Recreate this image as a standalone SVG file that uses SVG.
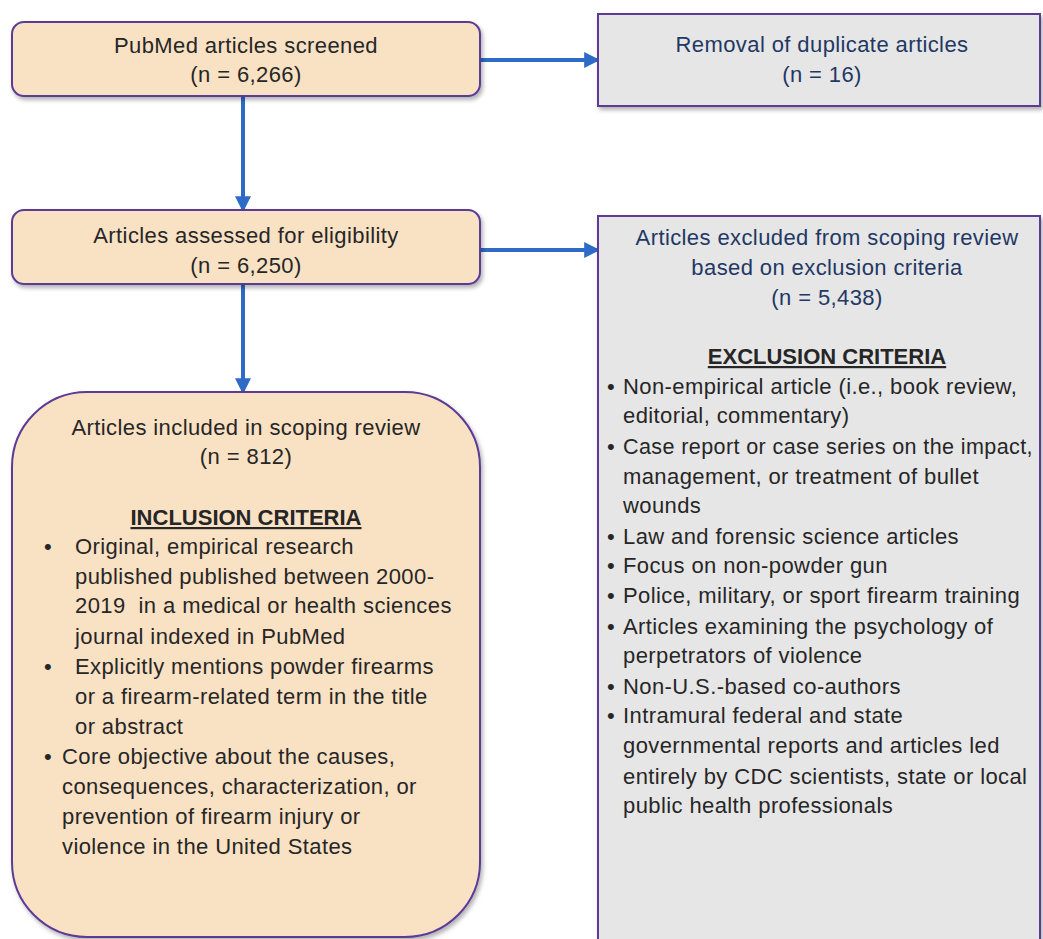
<svg xmlns="http://www.w3.org/2000/svg" width="1043" height="939" viewBox="0 0 1043 939">
<style>
.t{font-family:"Liberation Sans",Arial,sans-serif;font-size:22px;letter-spacing:0.4px;fill:#262626}
.c{text-anchor:middle}
.n{fill:#1F3864}
.b{font-weight:bold;text-decoration:underline;letter-spacing:0}
.peach{fill:#F9E1C4;stroke:#5B3A96;stroke-width:2}
.grey{fill:#E6E6E6;stroke:#5B3A96;stroke-width:2}
.arr{stroke:#2E6BC6;stroke-width:4;fill:none;marker-end:url(#ah)}
</style>
<defs>
<marker id="ah" markerWidth="4" markerHeight="4" refX="3.2" refY="2" orient="auto" markerUnits="strokeWidth">
<path d="M0,0 L4,2 L0,4 Z" fill="#2E6BC6"/>
</marker>
<filter id="sh" x="-5%" y="-5%" width="115%" height="115%">
<feDropShadow dx="2" dy="3" stdDeviation="2" flood-color="#000" flood-opacity="0.3"/>
</filter>
</defs>
<rect width="1043" height="939" fill="#fff"/>
<g id="connectors">
<line class="arr" x1="480" y1="60" x2="597" y2="60"/>
<line class="arr" x1="243" y1="96" x2="243" y2="209"/>
<line class="arr" x1="480" y1="250" x2="597" y2="250"/>
<line class="arr" x1="243" y1="284" x2="243" y2="391"/>
</g>
<g id="screened">
<rect class="peach" x="12" y="22" width="468" height="74" rx="12" filter="url(#sh)"/>
<text class="t c" x="246" y="53">PubMed articles screened</text>
<text class="t c" x="246" y="82">(n = 6,266)</text>
</g>
<g id="duplicates">
<rect class="grey" x="598" y="14" width="442" height="92" filter="url(#sh)"/>
<text class="t c n" x="822" y="52">Removal of duplicate articles</text>
<text class="t c n" x="822" y="82">(n = 16)</text>
</g>
<g id="eligibility">
<rect class="peach" x="12" y="210" width="468" height="74" rx="12" filter="url(#sh)"/>
<text class="t c" x="246" y="243">Articles assessed for eligibility</text>
<text class="t c" x="246" y="273">(n = 6,250)</text>
</g>
<g id="excluded">
<rect class="grey" x="598" y="216" width="442" height="740" filter="url(#sh)"/>
<text class="t c n" x="827" y="245">Articles excluded from scoping review</text>
<text class="t c n" x="827" y="275">based on exclusion criteria</text>
<text class="t c n" x="827" y="305">(n = 5,438)</text>
<text class="t c b" x="827" y="364">EXCLUSION CRITERIA</text>
<g class="t">
<text x="607" y="394">•</text><text x="623" y="394">Non-empirical article (i.e., book review,</text>
<text x="623" y="423">editorial, commentary)</text>
<text x="607" y="454">•</text><text x="623" y="454" textLength="410" lengthAdjust="spacingAndGlyphs">Case report or case series on the impact,</text>
<text x="623" y="484">management, or treatment of bullet</text>
<text x="623" y="513">wounds</text>
<text x="607" y="544">•</text><text x="623" y="544">Law and forensic science articles</text>
<text x="607" y="573">•</text><text x="623" y="573">Focus on non-powder gun</text>
<text x="607" y="603">•</text><text x="623" y="603">Police, military, or sport firearm training</text>
<text x="607" y="634">•</text><text x="623" y="634">Articles examining the psychology of</text>
<text x="623" y="663">perpetrators of violence</text>
<text x="607" y="694">•</text><text x="623" y="694">Non-U.S.-based co-authors</text>
<text x="607" y="723">•</text><text x="623" y="723">Intramural federal and state</text>
<text x="623" y="753">governmental reports and articles led</text>
<text x="623" y="784">entirely by CDC scientists, state or local</text>
<text x="623" y="813">public health professionals</text>
</g>
</g>
<g id="included">
<rect class="peach" x="12" y="392" width="468" height="545" rx="75" filter="url(#sh)"/>
<text class="t c" x="246" y="435">Articles included in scoping review</text>
<text class="t c" x="246" y="464">(n = 812)</text>
<text class="t c b" x="246" y="525">INCLUSION CRITERIA</text>
<g class="t">
<text x="44" y="554">•</text><text x="75" y="554">Original, empirical research</text>
<text x="75" y="584">published published between 2000-</text>
<text x="75" y="613" xml:space="preserve">2019  in a medical or health sciences</text>
<text x="75" y="644">journal indexed in PubMed</text>
<text x="44" y="674">•</text><text x="75" y="674">Explicitly mentions powder firearms</text>
<text x="75" y="704">or a firearm-related term in the title</text>
<text x="75" y="734">or abstract</text>
<text x="44" y="764">•</text><text x="62" y="764">Core objective about the causes,</text>
<text x="62" y="794">consequences, characterization, or</text>
<text x="62" y="824">prevention of firearm injury or</text>
<text x="62" y="854">violence in the United States</text>
</g>
</g>
</svg>
